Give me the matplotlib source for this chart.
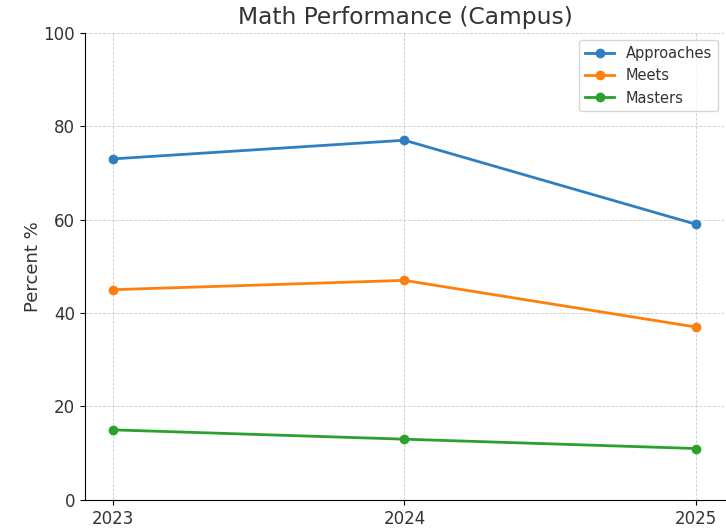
import matplotlib
matplotlib.use("Agg")
import matplotlib.pyplot as plt

# --- Data ---
years = [2023, 2024, 2025]
approaches = [73, 77, 59]
meets = [45, 47, 37]
masters = [15, 13, 11]

plt.rcParams['font.family'] = ['DejaVu Sans']

fig = plt.figure(figsize=(7.26, 5.29), dpi=100)
ax = fig.add_axes([0.117, 0.055, 0.882, 0.883])

ax.plot(years, approaches, marker='o', linewidth=2, markersize=6, color='#2f7fc0', label='Approaches')
ax.plot(years, meets, marker='o', linewidth=2, markersize=6, color='#ff7f0e', label='Meets')
ax.plot(years, masters, marker='o', linewidth=2, markersize=6, color='#2ca02c', label='Masters')

ax.set_title("Math Performance (Campus)", fontsize=16.8, color='#333333', pad=6)
ax.set_ylabel("Percent %", fontsize=13, color='#333333', labelpad=1)
ax.set_ylim(0, 100)
ax.set_xlim(2022.905, 2025.1)
ax.set_xticks(years)
ax.set_xticklabels([str(y) for y in years])
ax.tick_params(labelsize=12, colors='#333333')
ax.tick_params(axis='both', color='black')

ax.grid(True, linestyle='--', linewidth=0.6, color='#cccccc')
ax.spines['top'].set_visible(False)
ax.spines['right'].set_visible(False)

leg = ax.legend(loc='upper right', fontsize=10.5, frameon=True)
for t in leg.get_texts():
    t.set_color('#333333')

fig.savefig("out.png", dpi=100)
